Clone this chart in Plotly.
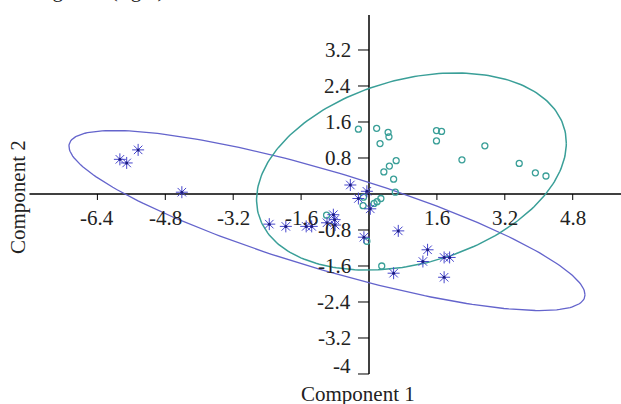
import numpy as np
import plotly.graph_objects as go

# ---- data ----
# Group A: teal open circles
ga_x = [-0.25, 0.18, 0.45, 0.47, 0.26, 1.59, 1.71, 1.59, 2.73, 2.19, 3.54, 3.92, 4.17,
        0.64, 0.48, 0.35, 0.58, 0.62, 0.28, 0.19, 0.12, -0.14, -0.13, -0.05, 0.30, -1.00]
ga_y = [1.44, 1.46, 1.37, 1.27, 1.12, 1.41, 1.39, 1.18, 1.07, 0.76, 0.68, 0.47, 0.40,
        0.74, 0.62, 0.49, 0.33, 0.04, -0.10, -0.17, -0.21, -0.26, -0.07, -1.05, -1.60, -0.47]

# Group B: blue asterisks
gb_x = [-5.87, -5.71, -5.44, -4.41, -0.44, -0.05, -0.25, 0.03, -2.35, -1.96, -1.48, -1.35,
        -0.99, -0.84, -0.81, -0.80, -0.12, 0.69, 1.38, 1.27, 1.77, 1.90, 1.77, 0.58]
gb_y = [0.77, 0.69, 0.98, 0.04, 0.20, 0.06, -0.10, -0.33, -0.67, -0.72, -0.72, -0.72,
        -0.64, -0.46, -0.57, -0.69, -0.96, -0.82, -1.24, -1.50, -1.41, -1.41, -1.85, -1.76]

# Confidence ellipses: centre and (Sxx, Sxy, Syy)
ea_center = (1.0, 0.5)
ea_cov = (13.32, 2.30, 4.80)
eb_center = (-0.99, -0.59)
eb_cov = (36.97, -10.03, 4.0)

x_ticks = [-6.4, -4.8, -3.2, -1.6, 1.6, 3.2, 4.8]
x_tick_labels = ["-6.4", "-4.8", "-3.2", "-1.6", "1.6", "3.2", "4.8"]
y_ticks = [3.2, 2.4, 1.6, 0.8, -0.8, -1.6, -2.4, -3.2, -4]
y_tick_labels = ["3.2", "2.4", "1.6", "0.8", "-0.8", "-1.6", "-2.4", "-3.2", "-4"]

x_title = "Component 1"
y_title = "Component 2"
top_text = "Figure 2 (right)"

# ---- styling ----
TEAL = "#3a9f98"
BLUE_E = "#6464cc"
BLUE_M = "#4646cc"
FONT = "Liberation Serif, Times New Roman, serif"
FS = 21
W, H = 621, 404
X_RANGE = [-8.695, 5.938]
Y_RANGE = [-4.667, 4.311]
px_x = W / (X_RANGE[1] - X_RANGE[0])
px_y = H / (Y_RANGE[1] - Y_RANGE[0])


def ellipse(center, cov, n=240):
    sxx, sxy, syy = cov
    t = np.linspace(0, 2 * np.pi, n)
    a = np.sqrt(sxx)
    c = sxy / a
    d = np.sqrt(syy - c * c)
    return center[0] + a * np.cos(t), center[1] + c * np.cos(t) + d * np.sin(t)


fig = go.Figure()

ex, ey = ellipse(eb_center, eb_cov)
fig.add_trace(go.Scatter(x=ex, y=ey, mode="lines", line=dict(color=BLUE_E, width=1.3),
                         hoverinfo="skip", showlegend=False))
ex, ey = ellipse(ea_center, ea_cov)
fig.add_trace(go.Scatter(x=ex, y=ey, mode="lines", line=dict(color=TEAL, width=1.5),
                         hoverinfo="skip", showlegend=False))

fig.add_trace(go.Scatter(x=ga_x, y=ga_y, mode="markers", showlegend=False,
                         marker=dict(symbol="circle-open", size=6, color=TEAL,
                                     line=dict(width=1.3, color=TEAL))))
fig.add_trace(go.Scatter(x=gb_x, y=gb_y, mode="markers", showlegend=False,
                         marker=dict(symbol="asterisk-open", size=10, color=BLUE_M,
                                     line=dict(width=1, color=BLUE_M))))
fig.add_trace(go.Scatter(x=gb_x, y=gb_y, mode="markers", showlegend=False,
                         marker=dict(symbol="circle", size=3, color="#1c1c80")))

shapes = []
# axis lines
shapes.append(dict(type="line", x0=-8, x1=X_RANGE[1], y0=0, y1=0,
                   line=dict(color="black", width=1.5), layer="below"))
shapes.append(dict(type="line", x0=0, x1=0, y0=-4, y1=3.98,
                   line=dict(color="black", width=1.5), layer="below"))
tick_x_len = 6 / px_y
tick_y_len = 11 / px_x
for v in x_ticks:
    shapes.append(dict(type="line", x0=v, x1=v, y0=0, y1=-tick_x_len,
                       line=dict(color="black", width=1), layer="below"))
for v in y_ticks:
    shapes.append(dict(type="line", x0=-tick_y_len, x1=0, y0=v, y1=v,
                       line=dict(color="black", width=1), layer="below"))

annotations = []
for v, lab in zip(x_ticks, x_tick_labels):
    annotations.append(dict(x=v, y=-24 / px_y, xref="x", yref="y", text=lab,
                            showarrow=False, xanchor="center", yanchor="middle",
                            font=dict(family=FONT, size=FS, color="#222")))
for v, lab in zip(y_ticks, y_tick_labels):
    annotations.append(dict(x=-16 / px_x, y=v, xref="x", yref="y", text=lab,
                            showarrow=False, xanchor="right", yanchor="middle",
                            yshift=(8 if lab == "-4" else 0),
                            font=dict(family=FONT, size=FS, color="#222")))
annotations.append(dict(x=-11 / px_x, y=-200 / px_y, xref="x", yref="y", text=x_title,
                        showarrow=False, xanchor="center", yanchor="middle",
                        font=dict(family=FONT, size=FS, color="#222")))
annotations.append(dict(x=(18 - 369) / px_x, y=-3 / px_y, xref="x", yref="y", text=y_title,
                        showarrow=False, xanchor="center", yanchor="middle", textangle=-90,
                        font=dict(family=FONT, size=FS, color="#222")))
annotations.append(dict(x=33 / W, y=1 - 4 / H, xref="paper", yref="paper", text=top_text,
                        showarrow=False, xanchor="left", yanchor="bottom",
                        font=dict(family=FONT, size=FS, color="#222")))

fig.update_layout(
    width=W, height=H,
    margin=dict(l=0, r=0, t=0, b=0),
    paper_bgcolor="white", plot_bgcolor="white",
    xaxis=dict(range=X_RANGE, visible=False, fixedrange=True),
    yaxis=dict(range=Y_RANGE, visible=False, fixedrange=True),
    shapes=shapes, annotations=annotations,
    showlegend=False,
)

fig.write_html("out.html", config={"displayModeBar": False},
               post_script="document.body.style.margin='0';document.body.style.overflow='hidden';")
